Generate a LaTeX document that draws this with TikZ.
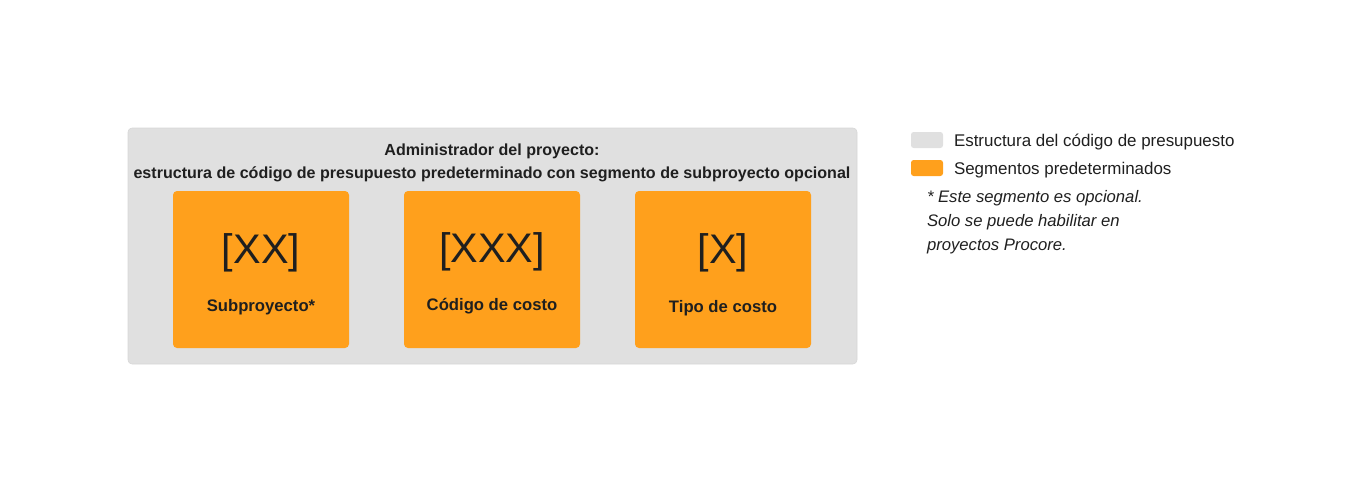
\documentclass[tikz,border=0pt]{standalone}
\usepackage{fontspec}
\setmainfont{Liberation Sans}
\usetikzlibrary{positioning}
\definecolor{segorange}{HTML}{FFA01C}
\definecolor{structgray}{HTML}{E0E0E0}
\definecolor{structedge}{HTML}{D6D6D6}
\definecolor{inkdark}{HTML}{1F1F1F}
\begin{document}
\begin{tikzpicture}[x=0.75pt,y=-0.75pt,node distance=173.25pt,
                    text=inkdark,inner sep=0pt,outer sep=0pt]
				\tikzstyle{segment}=[fill=segorange,rounded corners=3pt,minimum width=132pt,minimum height=117.75pt]
				\tikzstyle{key}=[minimum width=24pt,minimum height=12pt,rounded corners=2pt]
				\tikzstyle{code}=[font=\fontsize{31}{31}\selectfont]
				\tikzstyle{caption}=[font=\bfseries\fontsize{12.5}{15}\selectfont]
				\tikzstyle{keytext}=[anchor=west,yshift=-1.5pt,font=\fontsize{12.7}{15}\selectfont]

				\useasboundingbox (0,0) rectangle (1363,493);

				\node[fill=structgray,draw=structedge,rounded corners=3pt,
				      minimum width=546.75pt,minimum height=177pt] (frame) at (492.5,246) {};
				\node[align=center,font=\bfseries\fontsize{12.05}{17.25}\selectfont] (title) at (492,163)
				      {Administrador del proyecto:\\estructura de código de presupuesto predeterminado con segmento de subproyecto opcional};

				\node[segment]				(sub)				at (261,269.5)	{};
				\node[segment]				(cost)	[right of=sub]		{};
				\node[segment]				(type)	[right of=cost]		{};

				\node[code]	(subcode)	at (261,253)	{[XX]};
				\node[code]	(costcode)	at (492,252)	{[XXX]};
				\node[code]	(typecode)	at (723,253)	{[X]};
				\node[caption]	(subname)	at (261,307)	{Subproyecto*};
				\node[caption]	(costname)	at (492,306)	{Código de costo};
				\node[caption]	(typename)	at (723,308)	{Tipo de costo};

				% leyenda
				\node[key,fill=structgray]	(keygray)	at (927,140)	{};
				\node[key,fill=segorange]	(keyorange)	at (927,168)	{};
				\node[keytext,right=8.25pt of keygray]	(graytext)	{Estructura del código de presupuesto};
				\node[keytext,right=8.25pt of keyorange]	(orangetext)	{Segmentos predeterminados};
				\node[anchor=north west,align=left,font=\itshape\fontsize{12.5}{18}\selectfont] (note) at (927,190)
				      {* Este segmento es opcional.\\Solo se puede habilitar en\\proyectos Procore.};
\end{tikzpicture}
\end{document}
